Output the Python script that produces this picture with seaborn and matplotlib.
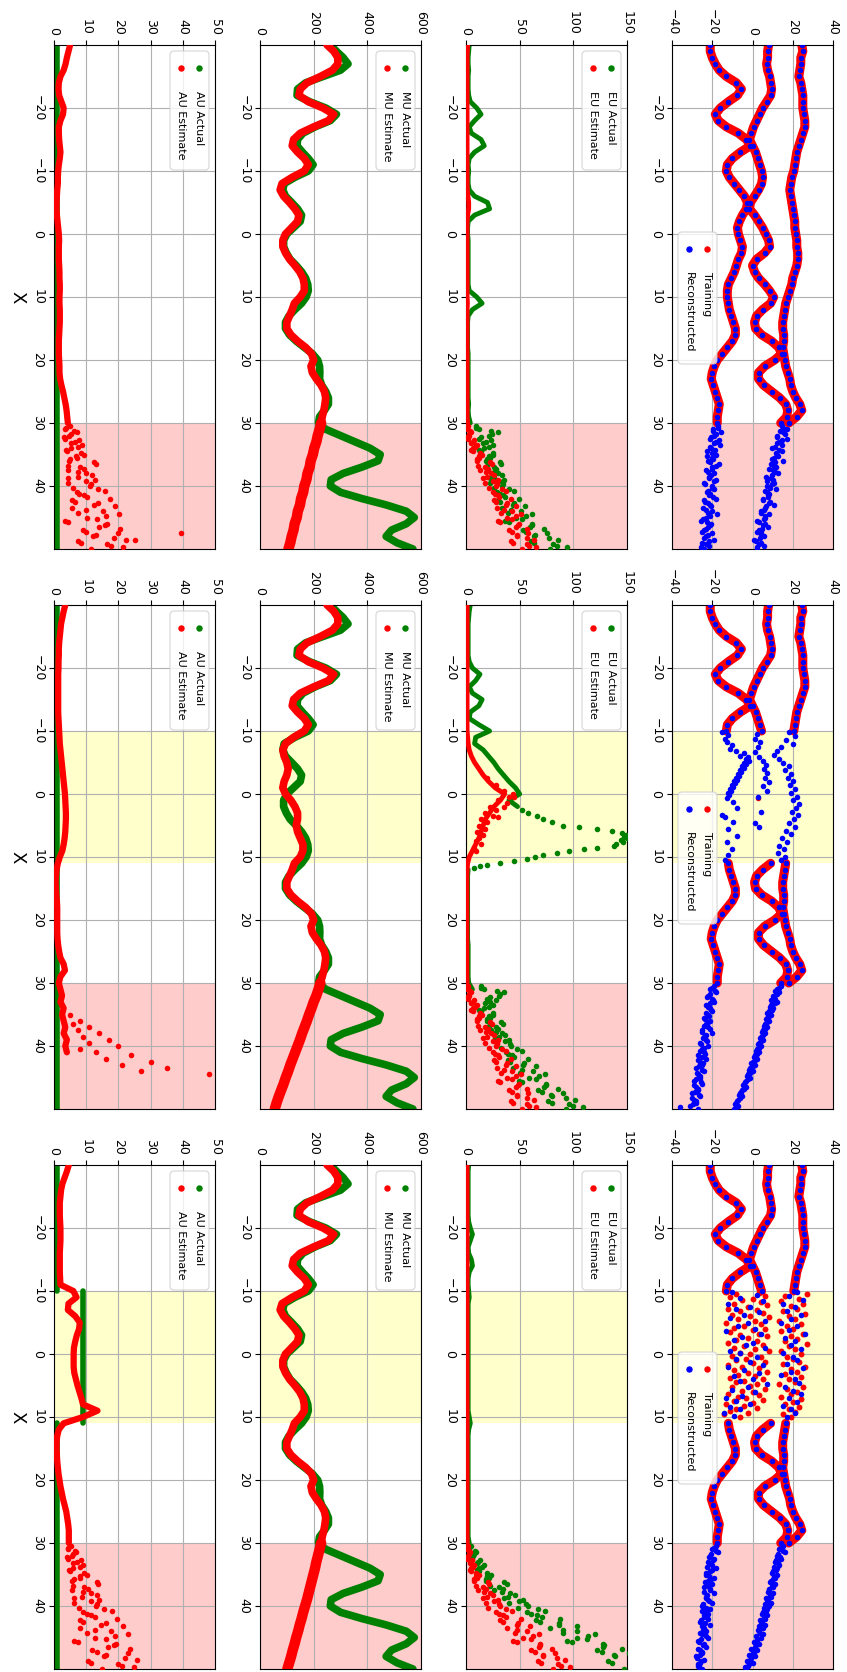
import matplotlib
matplotlib.use("Agg")
import matplotlib.pyplot as plt
from matplotlib.patches import FancyBboxPatch
import pandas as pd
import seaborn as sns

plt.rcParams['font.family'] = ['DejaVu Sans']

# ---------------------------------------------------------------- grids
XI = list(range(-30, 31))                     # integer X, -30..30
XL = list(range(-30, 51))                     # integer X, -30..50
XT = [30.5 + 0.5 * i for i in range(40)]      # tail X, 30.5..50
XT2 = [30.75 + 0.5 * i for i in range(39)]    # tail X, 30.75..49.75

# ---------------------------------------------------------------- training curves (three branches)
TR_LOW = [-21, -21, -20, -18.5, -16.5, -13, -8, -5.5, -7.5, -12,
          -16, -18.5, -17, -13, -7, -3, -1, -6, -10, -12.5,
          -13, -11.5, -9, -6.5, -4, -2.5, -3, -5, -6.5, -7.5,
          -7, -6, -5, -5.5, -7, -8, -9, -10.5, -12, -12.5,
          -12.5, -12, -11.5, -10.5, -9.5, -8.5, -8.5, -10, -12.5, -15,
          -17.5, -19, -20, -20.5, -19.5, -18.5, -17.5, -16.5, -17, -17.5,
          -17.5]
TR_MID = [8, 7.5, 7.5, 7, 7.5, 8.5, 9, 9.5, 9, 7,
          5, 3.5, 2, 0.5, -0.5, -1.5, 0, 1.5, 2.5, 3.5,
          4.5, 5, 4.5, 3, 1, -1, -1.5, 1, 3, 5,
          6.5, 8, 8.5, 6, 2, 0, 1, 3, 6, 8.5,
          10.5, 9, 5, 2, 1, 1.5, 4.5, 9.5, 13, 14.5,
          11, 6, 3, 3, 5.5, 9.5, 13.5, 16.5, 17.5, 17,
          14]
TR_UP = [24.5, 25, 24, 24, 23.5, 23, 24, 24.5, 25, 25,
         25, 25.5, 26, 26, 25, 24, 23, 22, 21.5, 21,
         20.5, 19.5, 19, 18.5, 19, 19.5, 20, 20.5, 21, 21,
         21.5, 22, 22, 22.5, 22.5, 22, 21, 20, 19.5, 18.5,
         17.5, 16.5, 16, 15.5, 15, 15, 15.5, 15.5, 15, 15.5,
         16, 16.5, 17.5, 18.5, 19, 20, 21.5, 23.5, 24.5, 22,
         18]

# reconstructed continuation beyond X = 30 (two branches, per column)
REC1_LOW = [-17.1, -19.5, -15.9, -19.1, -21.1, -18.2, -16.3, -20.7, -22.6, -18.3, -20.1, -22, -16.5,
            -20, -23, -19.2, -21.4, -18, -24, -20, -19, -22.6, -21.6, -17.9, -23.6, -20.9, -24.5,
            -20.1, -17.7, -23, -25.6, -20.8, -21.9, -24.2, -20, -23.1, -19.3, -24.9, -21.4, -23.9]
REC1_LOW2 = [-17, -19.5, -18, -20.5, -16.5, -19, -21, -18.5, -20, -22.5, -19.5, -21, -18, -20, -22,
             -20.5, -21.5, -19, -23.5, -20, -22, -21, -19.5, -24, -22, -20.5, -23, -22, -21, -24.5,
             -22.5, -21, -23, -25, -22, -24, -21.5, -23, -25.5]
REC1_UP = [14.5, 17, 15.3, 12, 16.9, 13, 14.7, 9.7, 14.7, 12.3, 10.6, 15.1, 9.1, 11.9, 10, 12.5, 6.9,
           10.1, 10.9, 7, 11.7, 7.1, 7.9, 5.2, 8.7, 10.9, 6, 4.3, 8.2, 6.2, 2.4, 6.3, 7.7, 3.2, 4,
           5.8, 0.9, 4.1, 5.5, 2.1]
REC1_UP2 = [15, 13.5, 16, 12, 14.5, 12, 11, 13, 11.5, 12.5, 9.5, 11, 10.5, 8, 11, 9.5, 9, 7, 9.5,
            8.5, 6, 8, 7.5, 5, 8, 6.5, 5.5, 4, 6, 5.5, 3, 5, 4.5, 2, 4, 3.5, 1.5, 3, 2]
REC2_LOW = [-19, -21, -18, -22, -20, -19, -23, -21, -20, -22, -24, -21, -23, -22, -25, -20, -24, -23,
            -26, -22, -25, -24, -27, -23, -26, -25, -28, -24, -27, -26, -29, -25, -28, -27, -30, -26,
            -29, -28, -31, -27]
REC2_LOW2 = [-20, -18.5, -21, -22.5, -19.5, -21, -22, -20.5, -23, -21.5, -23.5, -22, -24, -21, -25,
             -23, -24.5, -22.5, -25.5, -24, -26, -23.5, -25, -27, -24.5, -26.5, -25, -27.5, -26, -28,
             -25.5, -29, -27, -28.5, -26.5, -30, -28, -29.5, -36]
REC2_UP = [14, 12, 13, 10, 11, 12, 9, 10, 8, 9, 7, 8, 6, 7, 5, 6, 4, 5, 3, 4, 2, 3, 1, 2, 0, 1,
           -1, 0, -2, -1, -3, -4, -3, -5, -6, -5, -7, -8, -7, -9]
REC2_UP2 = [13, 11, 12, 10.5, 9, 11, 8.5, 9.5, 7, 8, 6.5, 7, 5.5, 6, 4.5, 5, 3.5, 4, 2.5, 3, 1.5, 2,
            0.5, 1, -0.5, 0, -1.5, -1, -2.5, -2, -3.5, -4.5, -4, -5.5, -6.5, -6, -7.5, -8.5, -8]
REC3_LOW = [-18, -20, -17, -21, -19, -22, -20, -18, -21, -23, -19, -22, -20, -24, -21, -19, -23, -22,
            -20, -25, -21, -23, -24, -22, -26, -21, -24, -23, -25, -22, -27, -24, -23, -26, -25, -28,
            -24, -26, -27, -25]
REC3_LOW2 = [-19, -18, -20.5, -21.5, -19.5, -21, -22.5, -20, -23, -21.5, -20.5, -23.5, -22, -21, -24,
             -22.5, -23, -21.5, -24.5, -23, -25, -22, -24, -25.5, -23.5, -25, -24.5, -26, -23, -25.5,
             -26.5, -24.5, -27, -25, -26, -27.5, -25.5, -27, -26.5]
REC3_UP = [15, 13, 16, 12, 14, 11, 13, 12, 10, 12, 11, 9, 11, 10, 8, 10, 9, 7, 9, 8, 7, 5, 7, 6, 4,
           6, 5, 3, 5, 4, 2, 3, 1, 2, 0, 1, -1, 0, -2, -3]
REC3_UP2 = [14, 15, 12.5, 13.5, 11.5, 12.5, 10.5, 11.5, 9.5, 10.5, 10, 8.5, 9.5, 8, 7.5, 8.5, 6.5,
            7.5, 6, 5.5, 6.5, 4.5, 5.5, 3.5, 4.5, 3, 2.5, 3.5, 1.5, 2, 0.5, 1.5, -0.5, 0.5, -1.5,
            -0.5, -2.5, -1.5, -3.5]

# reconstructed points inside the held-out window of column 2
REC2_WIN_X = [-9.8, -9.3, -8.8, -8.3, -7.8, -7.2, -6.9, -6.5, -6.1, -5.8, -5.5, -5.2, -5, -4.7, -4.4,
              -4.1, -3.8, -3.5, -3.2, -2.9, -2.6, -2.3, -2, -1.7, -1.4, -1.1, -0.8, -0.5, -0.2, 0.2,
              0.6, 1.3, 2.3, 3.4, 3.7, 4.4, 5.5, 6.6, 7.6, 8.7, 9.7, 10.5,
              -9.6, -8.8, -8.2, -7.4, -6.6, -5.9, -5.3, -4.6, -3.9, -3.3, -2.6, -1.9, -1.2, -0.4,
              0.5, 2.8, 4.6, 5.2,
              -9.8, -9.2, -8.6, -8, -7.4, -6.8, -6.2, -5.6, -5, -4.4, -3.8, -3.2, -2.6, -2, -1.4,
              -0.8, -0.2, 0.4, 1, 1.6, 2.2, 2.8, 3.4, 4, 4.6, 5.2, 5.8, 6.4, 7, 7.6, 8.2, 8.8, 9.4,
              10, 10.5]
REC2_WIN_V = [-15, -12, -13.5, -12.5, -10, -11, -8, -4, -6.2, -2, -3, -1.5, -4, -3, -5,
              -4, -6, -5.5, -7, -6.5, -8, -7.5, -9, -8.5, -10, -9.5, -11, -10.5, -12, -11.5,
              -12.5, -9.5, -7.9, -15.2, -13.6, -9.5, -12, -7.9, -12.8, -10.3, -12, -13.6,
              2, 1, 3.5, 2.5, 1, 3, 5, 6.5, 5.5, 7, 6, 8, 5, 7,
              2.8, 4, 1, 3,
              18, 21, 16.5, 20, 14, 12, 10.5, 13, 15, 18, 16, 19, 17.5, 20, 18.5,
              21, 19, 22, 20, 23, 21.5, 19.5, 22.5, 20.5, 18, 21, 16.5, 19, 14.5, 17, 13, 15.5, 12.5,
              16, 14]

# noisy training / reconstruction inside the window of column 3
TR3_WIN_X = [-10, -9.7, -9.5, -9.2, -9, -8.8, -8.5, -8.2, -8, -7.8, -7.5, -7.2, -7, -6.8, -6.5, -6.2,
             -6, -5.8, -5.5, -5.2, -5, -4.8, -4.5, -4.2, -4, -3.8, -3.5, -3.2, -3, -2.8, -2.5, -2.2,
             -2, -1.8, -1.5, -1.2, -1, -0.8, -0.5, -0.2, 0, 0.3, 0.5, 0.8, 1, 1.3, 1.5, 1.8, 2, 2.3,
             2.5, 2.8, 3, 3.3, 3.5, 3.8, 4, 4.3, 4.5, 4.8, 5, 5.3, 5.5, 5.8, 6, 6.3, 6.5, 6.8, 7,
             7.3, 7.5, 7.8, 8, 8.3, 8.5, 8.8, 9, 9.3, 9.6, 10,
             -10, -9.6, -9.2, -8.8, -8.4, -8, -7.6, -7.2, -6.8, -6.4, -6, -5.6, -5.2, -4.8, -4.4,
             -4, -3.6, -3.2, -2.8, -2.4, -2, -1.6, -1.2, -0.8, -0.4, 0, 0.4, 0.8, 1.2, 1.6, 2, 2.4,
             2.8, 3.2, 3.6, 4, 4.4, 4.8, 5.2, 5.6, 6, 6.4, 6.8, 7.2, 7.6, 8, 8.4, 8.8, 9.2, 9.6, 10]
TR3_WIN_V = [-13, 3, -8, 6, -11, 0, -5, 4, -9, 7, -2, -12, 2, -6, 5, -10,
             -1, 8, -7, 1, -13, 4, -4, -9, 6, 0, -11, 3, -6, 7, -2, -8,
             2, -12, 5, -4, -9, 1, 8, -6, -1, -10, 4, -3, -8, 6, 0, -12, -5, 3,
             -9, 7, -2, -7, 1, -11, 5, -4, -8, 2, -1, -10, 6, -5, 0, -12, 3, -7, -3,
             5, -9, 0, -13, -4, 2, -8, -11, -2, -14, -6,
             20, 27, 16, 23, 14, 25, 19, 22, 15, 26, 18, 21, 13, 24, 17,
             20, 14, 25, 19, 22, 16, 27, 18, 21, 14, 24, 17, 20, 23, 15, 26, 19,
             22, 16, 24, 18, 21, 13, 25, 17, 22, 19, 14, 24, 20, 16, 23, 18, 21, 15, 19]
REC3_WIN_X = [-9.8, -9.3, -8.9, -8.4, -7.9, -7.5, -7.1, -6.6, -6.2, -5.7, -5.3, -4.9, -4.4, -4, -3.6,
              -3.1, -2.7, -2.3, -1.8, -1.4, -1, -0.5, -0.1, 0.4, 0.8, 1.2, 1.7, 2.1, 2.6, 3, 3.5,
              3.9, 4.3, 4.8, 5.2, 5.7, 6.1, 6.6, 7, 7.5, 7.9, 8.4, 8.8, 9.3, 9.8,
              -9.8, -9.2, -8.6, -8, -7.4, -6.8, -6.2, -5.6, -5, -4.4, -3.8, -3.2, -2.6, -2, -1.4,
              -0.8, -0.2, 0.4, 1, 1.6, 2.2, 2.8, 3.4, 4, 4.6, 5.2, 5.8, 6.4, 7, 7.6, 8.2, 8.8, 9.4, 10]
REC3_WIN_V = [-10, 2, -6, 5, -12, -1, -8, 3, -4, -11, 6, -2, -7, 1, -13, 4, -5, -9, 0, -3, 6, -11,
              -6, 2, -8, -1, 5, -12, -4, 3, -9, 0, -6, 7, -2, -10, 1, -5, -13, -8, -1, -11, -6, -14,
              -9,
              22, 18, 25, 15, 21, 17, 24, 19, 14, 22, 18, 26, 16, 21, 19, 24, 15, 20, 22, 17, 25, 19,
              14, 21, 23, 16, 20, 24, 18, 22, 15, 19, 21, 17]

# ---------------------------------------------------------------- EU
EU_ACT1 = [3, 2.5, 2, 2, 2.5, 2, 2, 2, 2.5, 4,
           10, 14, 8, 3, 5, 14, 17, 8, 3, 2,
           2.5, 2, 2, 3, 8, 20, 22, 8, 2, 1.5,
           1.5, 2, 2, 2, 2, 2, 2, 2, 2, 3,
           10, 15, 6, 2, 1.5, 1.5, 1.5, 1.5, 1.5, 2,
           2, 2, 2, 2, 2, 2, 2, 2.5, 2, 2.5,
           4]
EU_EST1 = [1.5, 1.2, 1, 1, 1, 1, 1, 1, 1, 1,
           1, 1, 1, 1, 1, 1, 1, 1, 1, 1,
           1, 1, 1, 1.2, 1.8, 2.5, 2.5, 1.5, 1, 1,
           1, 1, 1, 1, 1, 1, 1, 1, 1, 1,
           1, 1.3, 1, 1, 1, 1, 1, 1, 1, 1,
           1, 1, 1, 1, 1, 1, 1, 1, 1, 1,
           1.5]
EU_ACT1_TAIL = [9.6, 11.8, 29.6, 21.2, 12.2, 18.4, 25.2, 16.6, 13.6, 25, 22, 19, 32.8, 25.8, 20.4,
                30.2, 26.4, 35.4, 22.8, 33.4, 39.7, 29.2, 34.3, 49, 31.8, 43.4, 33.4, 51, 61.9, 46.4,
                36.5, 61.4, 59.6, 53, 75.2, 63.8, 85.4, 63.8, 84.8, 78.6]
EU_ACT1_TAIL2 = [9.1, 23.5, 23.8, 13.9, 22.9, 15.4, 21.7, 12.3, 25.3, 21.5, 19.3, 31.5, 19.7, 27.9,
                 25.7, 33.1, 22.1, 31.1, 34.5, 26, 44.3, 31.4, 36.5, 29.6, 44.8, 55.2, 41.6, 38.8,
                 55.7, 52.6, 39.6, 61.3, 72.3, 56.1, 63.9, 77, 60.2, 80.7, 93.7]
EU_EST1_TAIL = [1.8, 0.5, 4.8, 2.6, 1.6, 6.2, 10.1, 6.8, 6.3, 15, 12.5, 10, 24.3, 17.8, 12.9, 23.2,
                19.9, 29.4, 17.3, 28.4, 33.5, 25, 29.5, 42, 27.5, 37, 28.5, 43, 51.5, 38, 29.5, 49.2,
                46.8, 40.5, 57.6, 47.4, 63.2, 43.9, 58.9, 51.8]
EU_EST1_TAIL2 = [0.5, 3.7, 2.9, 0.7, 7.7, 4.9, 8.8, 5.1, 12.6, 11.7, 10, 22.7, 11.4, 20.1, 18.4, 26.3,
                 15.8, 25.3, 29.2, 21.7, 37.2, 26.7, 31.2, 25.7, 38.2, 46.7, 35.2, 32.7, 46.2, 43,
                 31.5, 48.6, 56.6, 42.5, 47.9, 57.2, 41.8, 56.6, 65.1]

EU_ACT2 = [4, 3, 2.5, 2, 2, 2, 2, 2, 2, 3,
           6, 13, 9, 3, 6, 15, 12, 4, 3, 12,
           22, 9, 8, 16, 21, 26, 30, 35, 40, 46,
           50, 40, 48]                                   # X = -30..2
EU_ACT2_HI_X = [2.5, 3, 3.5, 4, 4.5, 5, 5.3, 5.6, 5.9, 6.2, 6.5, 6.8, 7, 7.3, 7.6, 7.9, 8.2, 8.5,
                8.8, 9.1, 9.4, 9.7, 10, 10.3, 10.6, 10.9, 11.2, 11.5, 11.8]
EU_ACT2_HI_V = [52, 58, 66, 72, 80, 90, 105, 122, 136, 145, 149, 147, 150, 144, 146, 140, 138, 122,
                110, 96, 85, 72, 64, 57, 45, 32, 20, 13, 7]
EU_ACT2_LATE = [2, 1.5, 1.5, 1.5, 1.5, 1.5, 1.5, 1.5, 1.5, 1.5,
                1.5, 1.5, 2, 2, 2, 2, 2, 2, 2.5, 6]          # X = 12..31
EU_EST2 = [1, 1, 1, 1, 1, 1, 1, 1, 1, 1,
           1, 1, 1, 1, 1, 1, 1, 1, 1, 1,
           1, 1.5, 2, 3, 5, 8, 12, 16, 21, 27,
           36, 32, 26, 22, 18, 16, 14, 12, 9, 6,
           3, 1.5, 1, 0.8, 0.8, 0.8, 0.8, 0.8, 0.8, 0.8,
           0.8, 0.8, 0.8, 0.8, 0.8, 0.8, 0.8, 0.8, 0.8, 0.8,
           1]
EU_EST2_WIN_X = [-2.5, -1.5, -0.5, 0, 0.5, 1, 1.5, 2, 2.5, 3, 3.5, 4, 4.5, 5, 5.5, 6, 6.5, 7, 7.5,
                 8, 8.5, 9, 3.7, 2, 0.4]
EU_EST2_WIN_V = [20, 28, 35, 44, 40, 30, 38, 22, 28, 18, 25, 14, 20, 12, 18, 10, 16, 12, 9,
                 14, 7, 9, 30, 35, 45]
EU_ACT2_TAIL = [13.6, 16.8, 35.6, 31.2, 19.2, 22.4, 25.2, 16.6, 13.6, 25, 22.5, 20, 34.3, 27.8, 22.9,
                33.2, 30.4, 40.4, 28.8, 41.6, 47.2, 37.2, 42.8, 58, 41.3, 53.4, 43.9, 62, 73.4, 58.4,
                49, 74.4, 73.1, 67, 90.2, 79.8, 101.4, 79.8, 99.8, 93.6]
EU_ACT2_TAIL2 = [13.6, 29, 31.8, 22.4, 28.4, 17.4, 21.7, 12.3, 25.3, 21.7, 20, 32.7, 21.4, 30.1,
                 28.4, 36.6, 26.6, 36.6, 41, 33, 51.8, 39.4, 45, 38.8, 54.5, 65.4, 52.3, 50.3, 67.7,
                 65.1, 52.1, 74.5, 86, 70.6, 79.4, 93, 76.2, 96.2, 108.7]

EU_ACT3 = [2.5, 2, 2, 2, 2, 2, 2, 2, 2, 2.5,
           4, 6, 4, 2, 2.5, 5, 6, 3, 2, 2,
           2.5, 3, 2, 2, 2, 2, 2, 2, 2, 2,
           2, 2, 2, 2, 2, 2, 2, 2, 2, 2,
           3, 4, 2.5, 2, 2, 2, 2, 2, 2, 2,
           2, 2, 2, 2, 2, 2, 2, 2, 2, 2,
           3]
EU_EST3 = [1, 1, 1, 1, 1, 1, 1, 1, 1, 1,
           1, 1, 1, 1, 1, 1, 1, 1, 1, 1,
           1, 1, 1, 1, 1, 1, 1, 1, 1, 1,
           1, 1, 1, 1, 1, 1, 1, 1, 1, 1,
           1, 1, 1, 1, 1, 1, 1, 1, 1, 1,
           1, 1, 1, 1, 1, 1, 1, 1, 1, 1,
           1.2]
EU_ACT3_TAIL = [5, 3, 9.5, 6.5, 6, 11.5, 16.5, 12.5, 12, 23, 21, 19, 38, 31, 26, 41, 39, 53, 40,
                57.5, 67, 57, 66.5, 88, 69, 87, 78, 103.5, 120, 103.5, 94, 128, 128, 122, 152, 139,
                165, 136, 158, 147]
EU_ACT3_TAIL2 = [3, 8, 7, 4.5, 13.5, 10, 15, 10.5, 20, 19.5, 18.5, 35.5, 22.5, 34.5, 34, 46, 35, 49,
                 56, 48, 74, 61, 70.5, 65, 87, 103.5, 90, 90, 114, 113, 99, 129, 145, 127, 138, 155,
                 132, 155, 167]
EU_EST3_TAIL = [1.6, 0.5, 4.1, 2.2, 1.2, 4.9, 7.7, 5.1, 4.6, 12.5, 10, 7.5, 21.8, 15.8, 11.4, 22.2,
                19.4, 29.4, 18.3, 31.6, 37.7, 28.2, 34.8, 51, 34.8, 47.4, 38.4, 57, 68.4, 53.4, 44,
                69.4, 67.6, 61, 83.2, 71.8, 92.4, 69.8, 88.8, 80.6]
EU_EST3_TAIL2 = [0.6, 3.2, 2.5, 1, 5.9, 3.9, 6.7, 3.8, 9.5, 9.2, 7.5, 20.2, 9.2, 18.4, 17.2, 25.6,
                 15.6, 25.8, 30.7, 20.8, 42.5, 30.9, 37.5, 32.1, 48.3, 59.7, 47.1, 45.3, 62.7, 60.1,
                 47.1, 69.3, 80.3, 64.1, 71.9, 84.5, 66.7, 85.7, 96.7]

# ---------------------------------------------------------------- MU
MU_ACT = [262, 285, 310, 328, 300, 235, 170, 140, 138, 185,
          245, 285, 262, 205, 160, 140, 138, 158, 180, 198,
          180, 130, 90, 85, 95, 118, 140, 155, 150, 125,
          100, 88, 88, 98, 112, 135, 155, 170, 178, 180,
          172, 155, 130, 108, 95, 95, 110, 135, 165, 195,
          215, 222, 223, 222, 230, 245, 255, 255, 240, 222,
          218, 245, 300, 355, 410, 448, 440, 380, 310, 265,
          262, 300, 380, 470, 545, 575, 545, 490, 470, 510,
          570]
MU_EST1 = [250, 275, 290, 290, 270, 225, 175, 150, 145, 180,
           235, 275, 255, 200, 150, 125, 120, 140, 165, 180,
           165, 120, 82, 75, 88, 110, 130, 145, 140, 118,
           95, 85, 85, 95, 110, 130, 148, 160, 165, 165,
           150, 128, 120, 110, 100, 100, 115, 140, 170, 192,
           200, 190, 195, 210, 228, 240, 245, 242, 238, 232,
           228, 222, 215, 210, 202, 197, 189, 185, 177, 173,
           165, 161, 153, 149, 141, 137, 129, 125, 118, 113,
           106]
MU_EST2 = [250, 275, 290, 290, 270, 225, 175, 150, 145, 180,
           235, 275, 255, 200, 150, 125, 120, 140, 165, 180,
           165, 125, 95, 85, 90, 100, 105, 100, 90, 85,
           95, 115, 130, 140, 140, 135, 140, 150, 160, 160,
           150, 128, 120, 110, 100, 100, 115, 140, 170, 192,
           200, 190, 195, 210, 228, 240, 245, 242, 238, 232,
           225, 218, 210, 200, 192, 183, 175, 166, 157, 149,
           140, 131, 122, 113, 105, 96, 88, 79, 70, 62,
           55]
MU_EST3 = [250, 275, 290, 290, 270, 225, 175, 150, 145, 180,
           235, 275, 255, 200, 150, 125, 120, 140, 165, 180,
           165, 120, 82, 75, 88, 110, 130, 145, 140, 118,
           95, 85, 85, 95, 110, 130, 148, 160, 165, 165,
           150, 128, 120, 110, 100, 100, 115, 140, 170, 192,
           200, 190, 195, 210, 228, 240, 245, 242, 238, 232,
           228, 222, 216, 210, 205, 199, 193, 187, 181, 175,
           168, 161, 155, 148, 142, 135, 129, 122, 116, 109,
           102]

# ---------------------------------------------------------------- AU
AU_BASE = 0.8
AU_WIN = 9.0
AU_EST1 = [5, 4.5, 4, 3.6, 3, 2, 1.5, 1.4, 1.6, 2.3,
           3, 2.8, 2, 1.5, 1.5, 1.6, 1.8, 2, 1.8, 1.5,
           1.3, 1.2, 1.2, 1, 0.9, 0.8, 0.8, 0.9, 1.1, 1.3,
           1.5, 1.6, 1.5, 1.5, 1.5, 1.6, 1.7, 1.7, 1.8, 1.8,
           1.7, 1.7, 1.8, 1.8, 1.8, 1.7, 1.6, 1.5, 1.5, 1.5,
           1.6, 1.7, 1.7, 1.9, 2.3, 2.8, 3.2, 3.6, 3.9, 4.1,
           4.3]
AU_EST1_TAIL = [5.1, 3.5, 7, 4.8, 3.5, 6.5, 8.6, 5.3, 4.1, 9.3, 7, 4.7, 12.9, 8.1, 4.3, 10, 7.3,
                12.6, 4.4, 11.3, 13.7, 7, 9.4, 17.4, 6.5, 12.4, 5.7, 15.1, 20.3, 10.1, 3.5, 16.4, 14,
                8.9, 20, 12.2, 22.4, 8.3, 17.6, 11.6]
AU_EST1_TAIL2 = [3.7, 6.3, 5.3, 3.1, 7.9, 5.2, 7.3, 3.7, 8.5, 6.9, 5.1, 12.3, 4.5, 9.2, 7.4, 11.7,
                 4.5, 9.8, 11.6, 5.9, 15.9, 7.9, 10.3, 5.7, 13.7, 18.9, 10, 7.6, 16.3, 13.3, 4.5,
                 15.7, 20.5, 10, 13, 18.7, 7.3, 16.6, 21.4]
AU_EST1_OUT_X = [47.5, 48.5]
AU_EST1_OUT_V = [39.5, 25]
AU_EST2 = [3.5, 3, 2.6, 2.2, 2, 1.8, 1.6, 1.5, 1.5, 1.4,
           1.4, 1.3, 1.3, 1.3, 1.3, 1.3, 1.3, 1.3, 1.4, 1.5,
           1.6, 1.7, 1.8, 2, 2.2, 2.4, 2.6, 2.8, 3, 3.2,
           3.4, 3.5, 3.6, 3.7, 3.7, 3.6, 3.5, 3.3, 3, 2.6,
           1.8, 1.2, 0.8, 0.6, 0.5, 0.6, 0.7, 0.9, 1, 1,
           1, 1, 1, 1.1, 1.3, 1.6, 2, 3, 3.4, 2,
           1.5, 2, 2.5, 2, 3, 2.5, 3, 3.5, 3, 4,
           3.5, 4]                                       # X = -30..41
AU_EST2_SCAT_X = [35, 36, 36.5, 37, 37.5, 38, 38.5, 39, 39.5, 40, 40.5, 41, 41.5, 42, 42.5, 43, 43.5,
                  44, 44.5]
AU_EST2_SCAT_V = [5, 8, 6, 11, 7.5, 14, 9, 17, 11, 20, 8, 13, 24, 16, 30, 21, 35, 27, 48]
AU_EST3 = [4.6, 4, 3.3, 2.6, 2.2, 2, 1.8, 1.8, 1.8, 1.9,
           2, 2, 2, 1.9, 1.8, 1.8, 1.8, 1.8, 1.9, 2,
           6, 7, 4.5, 4.3, 6.6, 8, 7.8, 7.1, 6.6, 6.2,
           6.1, 6.1, 6.1, 6.3, 6.8, 7.3, 7.9, 8.5, 9, 13.5,
           9, 3, 1.5, 1, 0.8, 0.8, 0.9, 1, 1.2, 1.4,
           1.7, 2, 2.4, 2.8, 3.3, 3.8, 4.1, 4.4, 4.6, 4.6,
           4.6]
AU_EST3_TAIL = [5.3, 4.2, 6.8, 5.5, 4.3, 7.2, 9.1, 6, 5, 10.1, 8, 5.5, 13.6, 9.2, 5.5, 11.4, 8.8,
                14.1, 6.2, 13.1, 15.6, 9, 11.5, 19.6, 8.9, 14.7, 8.2, 17.6, 23, 12.8, 6.2, 19.3,
                16.9, 11.8, 23.1, 15.4, 25.7, 11.5, 21, 14.8]
AU_EST3_TAIL2 = [4.2, 6.6, 5.8, 3.9, 8.5, 6, 8.2, 4.6, 9.4, 8, 6.2, 13.5, 5.8, 10.6, 8.9, 13.3, 6.2,
                 11.6, 13.5, 7.9, 18, 10.1, 12.6, 8.1, 16.2, 21.4, 12.6, 10.3, 19, 16.1, 7.4, 18.7,
                 23.6, 13.2, 16.2, 22, 10.7, 20, 24.8]

# ---------------------------------------------------------------- layout (pixels of the 847 x 1672 canvas)
W, H = 847, 1672
STRIP_LEFT = {'AU': 54, 'MU': 260, 'EU': 466, 'TR': 672}
AX_W, AX_H = 161, 504
BAND_TOP = [45, 605, 1165]
VALUE_LIM = {'AU': (0, 50), 'MU': (0, 600), 'EU': (0, 150), 'TR': (-40, 40)}
VALUE_TICKS = {'AU': [0, 10, 20, 30, 40, 50], 'MU': [0, 200, 400, 600],
               'EU': [0, 50, 100, 150], 'TR': [-40, -20, 0, 20, 40]}
X_TICKS = [-20, -10, 0, 10, 20, 30, 40]

fig = plt.figure(figsize=(W / 100, H / 100), dpi=100)


def make_axes(kind, band):
    left = STRIP_LEFT[kind]
    top = BAND_TOP[band]
    ax = fig.add_axes([left / W, 1 - (top + AX_H) / H, AX_W / W, AX_H / H])
    ax.set_axisbelow(True)
    ax.grid(True, color='#b0b0b0', lw=0.8)
    ax.xaxis.tick_top()
    ax.set_xticks(VALUE_TICKS[kind])
    ax.set_yticks(X_TICKS)
    ax.tick_params(axis='both', labelsize=9, length=3.5, width=0.8, direction='out')
    ax.tick_params(axis='x', labelrotation=-90)
    ax.tick_params(axis='y', labelrotation=-90)
    for lab in ax.get_yticklabels():
        lab.set_va('center')
    for s in ax.spines.values():
        s.set_linewidth(0.8)
    ax.axhspan(30, 50, color='red', alpha=0.2, lw=0, zorder=0.2)
    if band > 0:
        ax.axhspan(-10, 11, color='yellow', alpha=0.2, lw=0, zorder=0.2)
    return ax


def finish(ax, kind):
    ax.set_xlim(*VALUE_LIM[kind])
    ax.set_ylim(50, -30)
    ax.set_xlabel('')
    ax.set_ylabel('')


def trace(ax, xs, vs, color, lw=4.5, z=2):
    d = pd.DataFrame({'v': vs, 'x': xs})
    sns.lineplot(data=d, x='v', y='x', ax=ax, color=color, lw=lw, sort=False,
                 estimator=None, legend=False, zorder=z, solid_capstyle='round')


def dots(ax, xs, vs, color, s=16, z=3):
    d = pd.DataFrame({'v': vs, 'x': xs})
    sns.scatterplot(data=d, x='v', y='x', ax=ax, color=color, s=s, linewidth=0,
                    legend=False, zorder=z)


def rot_legend(ax, labels, colors, y_top, height, x_left):
    """Legend box whose entries read downwards; entries are laid out right to left."""
    fx = lambda px: px / AX_W
    fy = lambda py: 1 - py / AX_H
    box = FancyBboxPatch((fx(x_left), fy(y_top + height)), fx(39), height / AX_H,
                         boxstyle="round,pad=0,rounding_size=0.025",
                         mutation_aspect=AX_W / AX_H, transform=ax.transAxes,
                         facecolor='white', edgecolor='#cccccc', lw=0.8, alpha=0.8, zorder=6)
    ax.add_patch(box)
    cols = [x_left + 29, x_left + 11]
    for lab, col, cx in zip(labels, colors, cols):
        ax.plot([fx(cx)], [fy(y_top + 17)], 'o', ms=3.6, color=col, transform=ax.transAxes,
                zorder=7, clip_on=False)
        ax.text(fx(cx), fy(y_top + 40), lab, transform=ax.transAxes, rotation=-90,
                rotation_mode='anchor', ha='left', va='center', fontsize=8, zorder=7)


def seg(lst, lo, hi):
    return lst[lo + 30:hi + 31]


# ---------------------------------------------------------------- training / reconstruction row
rec_tails = [(REC1_LOW, REC1_UP, REC1_LOW2, REC1_UP2),
             (REC2_LOW, REC2_UP, REC2_LOW2, REC2_UP2),
             (REC3_LOW, REC3_UP, REC3_LOW2, REC3_UP2)]
for b in range(3):
    ax = make_axes('TR', b)
    if b == 0:
        parts = [(-30, 30)]
    else:
        parts = [(-30, -10), (11, 30)]
    for lo, hi in parts:
        for br in (TR_LOW, TR_MID, TR_UP):
            trace(ax, seg(XI, lo, hi), seg(br, lo, hi), 'red', lw=6.5)
    if b == 1:
        dots(ax, [0.6], [2.8], 'red')
    if b == 2:
        dots(ax, TR3_WIN_X, TR3_WIN_V, 'red', s=18)
    for lo, hi in parts:
        for br in (TR_LOW, TR_MID, TR_UP):
            dots(ax, seg(XI, lo, hi), seg(br, lo, hi), 'blue', s=16, z=4)
    if b == 1:
        dots(ax, REC2_WIN_X, REC2_WIN_V, 'blue', z=4)
    if b == 2:
        dots(ax, REC3_WIN_X, REC3_WIN_V, 'blue', z=4)
    lo_t, up_t, lo_t2, up_t2 = rec_tails[b]
    dots(ax, XT, lo_t, 'blue', z=4)
    dots(ax, XT, up_t, 'blue', z=4)
    dots(ax, XT2, lo_t2, 'blue', z=4)
    dots(ax, XT2, up_t2, 'blue', z=4)
    rot_legend(ax, ['Training', 'Reconstructed'], ['red', 'blue'], 187, 132, 6)
    finish(ax, 'TR')

# ---------------------------------------------------------------- EU row
for b in range(3):
    ax = make_axes('EU', b)
    if b == 0:
        trace(ax, XI, EU_ACT1, 'green', lw=3.5)
        dots(ax, XT, EU_ACT1_TAIL, 'green')
        dots(ax, XT2, EU_ACT1_TAIL2, 'green')
        trace(ax, XI, EU_EST1, 'red', lw=3.5, z=4)
        dots(ax, XT, EU_EST1_TAIL, 'red', z=5)
        dots(ax, XT2, EU_EST1_TAIL2, 'red', z=5)
    elif b == 1:
        trace(ax, list(range(-30, 3)), EU_ACT2, 'green', lw=3.5)
        dots(ax, EU_ACT2_HI_X, EU_ACT2_HI_V, 'green')
        trace(ax, list(range(12, 32)), EU_ACT2_LATE, 'green', lw=3.5)
        dots(ax, XT, EU_ACT2_TAIL, 'green')
        dots(ax, XT2, EU_ACT2_TAIL2, 'green')
        trace(ax, XI, EU_EST2, 'red', lw=3.5, z=4)
        dots(ax, EU_EST2_WIN_X, EU_EST2_WIN_V, 'red', z=5)
        dots(ax, XT, EU_EST1_TAIL, 'red', z=5)
        dots(ax, XT2, EU_EST1_TAIL2, 'red', z=5)
    else:
        trace(ax, XI, EU_ACT3, 'green', lw=3.5)
        dots(ax, XT, EU_ACT3_TAIL, 'green')
        dots(ax, XT2, EU_ACT3_TAIL2, 'green')
        trace(ax, XI, EU_EST3, 'red', lw=3.5, z=4)
        dots(ax, XT, EU_EST3_TAIL, 'red', z=5)
        dots(ax, XT2, EU_EST3_TAIL2, 'red', z=5)
    rot_legend(ax, ['EU Actual', 'EU Estimate'], ['green', 'red'], 6, 119, 116)
    finish(ax, 'EU')

# ---------------------------------------------------------------- MU row
for b, est in enumerate([MU_EST1, MU_EST2, MU_EST3]):
    ax = make_axes('MU', b)
    trace(ax, XL, MU_ACT, 'green', lw=5.5)
    trace(ax, XL[:61], est[:61], 'red', lw=5.5, z=4)
    trace(ax, XL[60:], est[60:], 'red', lw=7.5, z=4)
    rot_legend(ax, ['MU Actual', 'MU Estimate'], ['green', 'red'], 6, 119, 116)
    finish(ax, 'MU')

# ---------------------------------------------------------------- AU row
for b in range(3):
    ax = make_axes('AU', b)
    if b < 2:
        trace(ax, [-30, 50], [AU_BASE, AU_BASE], 'green', lw=4)
    else:
        trace(ax, [-30, -10], [AU_BASE, AU_BASE], 'green', lw=4)
        trace(ax, [-10, 11], [AU_WIN, AU_WIN], 'green', lw=4)
        trace(ax, [11, 50], [AU_BASE, AU_BASE], 'green', lw=4)
    if b == 0:
        trace(ax, XI, AU_EST1, 'red', lw=4.5, z=4)
        dots(ax, XT, AU_EST1_TAIL, 'red', z=5)
        dots(ax, XT2, AU_EST1_TAIL2, 'red', z=5)
        dots(ax, AU_EST1_OUT_X, AU_EST1_OUT_V, 'red', z=5)
    elif b == 1:
        trace(ax, list(range(-30, 42)), AU_EST2, 'red', lw=4.5, z=4)
        dots(ax, AU_EST2_SCAT_X, AU_EST2_SCAT_V, 'red', z=5)
    else:
        trace(ax, XI, AU_EST3, 'red', lw=4.5, z=4)
        dots(ax, XT, AU_EST3_TAIL, 'red', z=5)
        dots(ax, XT2, AU_EST3_TAIL2, 'red', z=5)
    rot_legend(ax, ['AU Actual', 'AU Estimate'], ['green', 'red'], 6, 119, 116)
    finish(ax, 'AU')
    ax.set_ylabel('X', rotation=-90, fontsize=13, labelpad=10, va='center')

fig.savefig('out.png', dpi=100)
